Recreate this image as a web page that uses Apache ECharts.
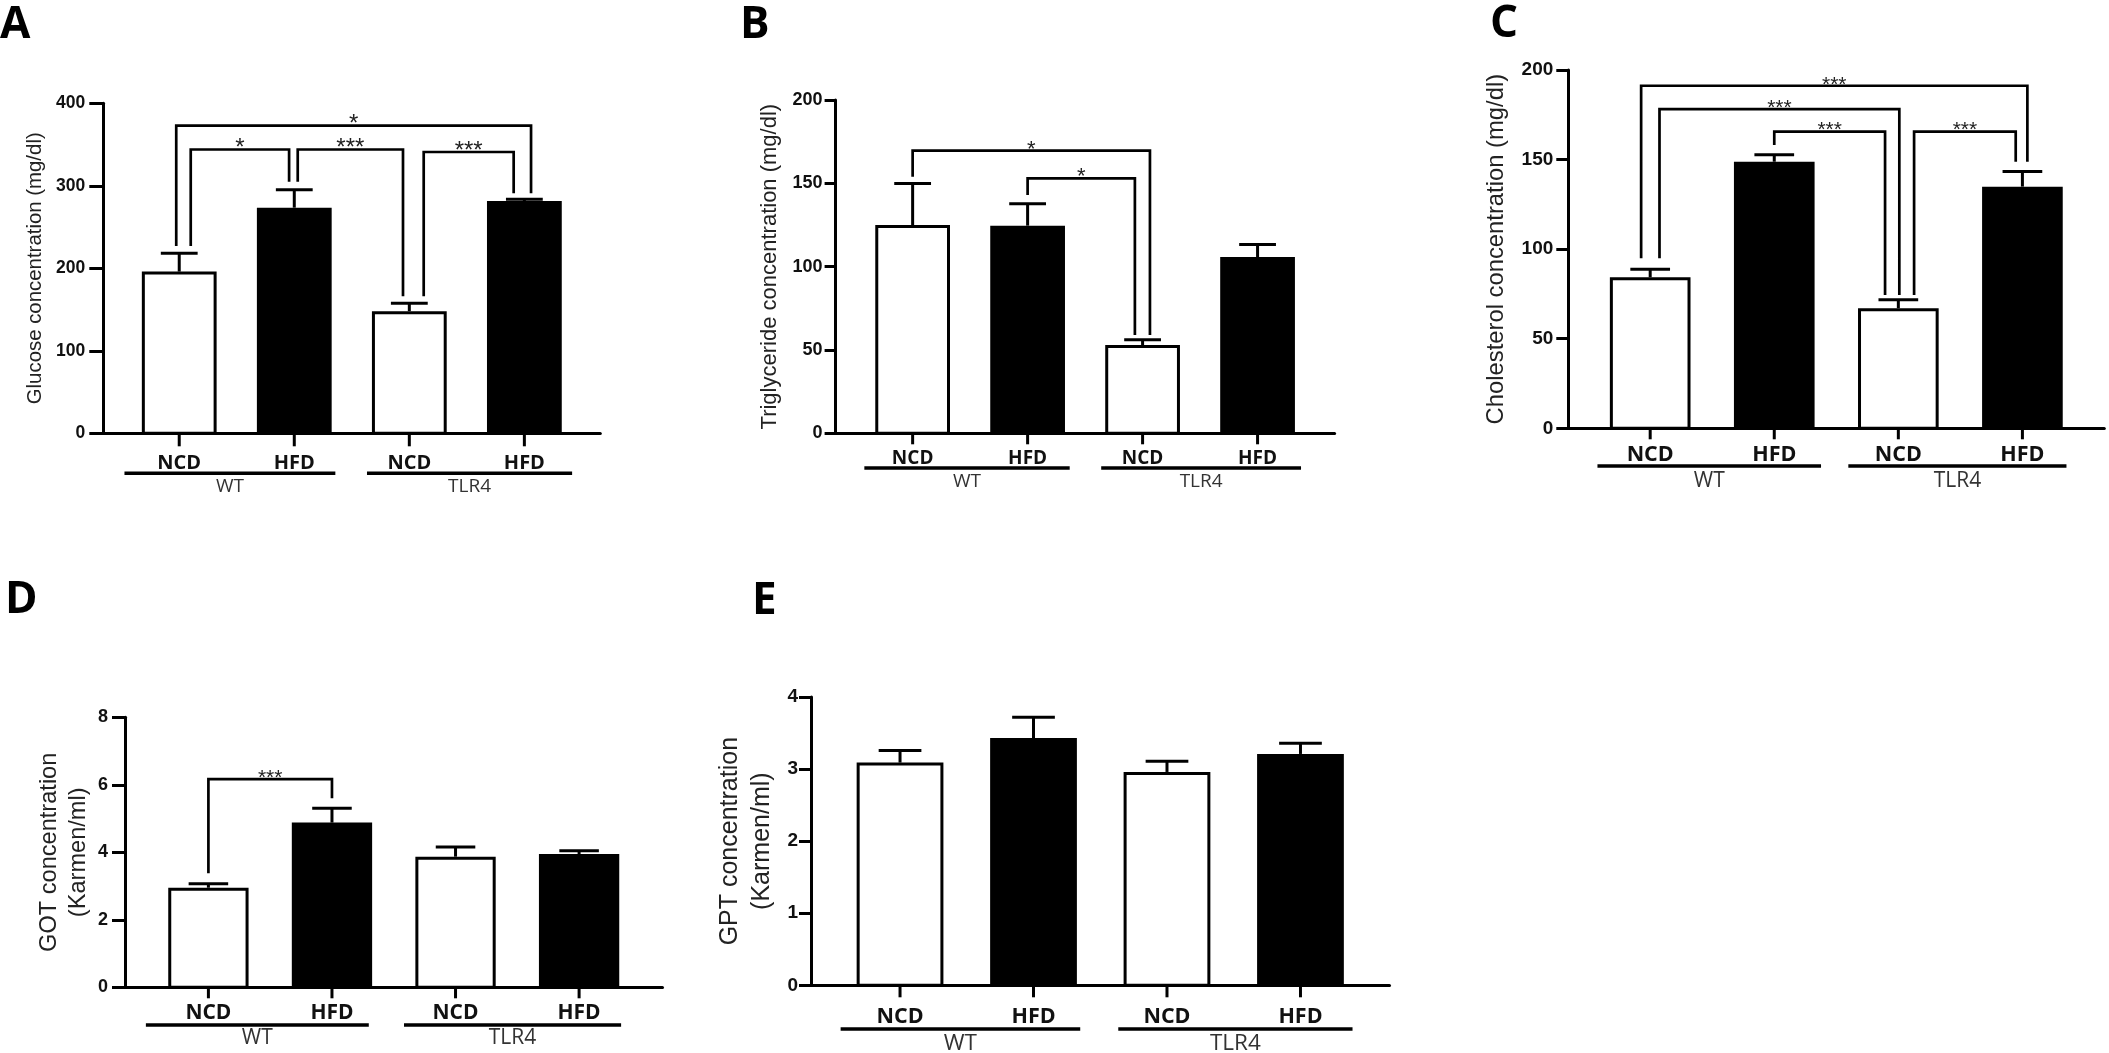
<!DOCTYPE html>
<html><head><meta charset="utf-8">
<script src="https://cdn.jsdelivr.net/npm/echarts@6/dist/echarts.min.js"></script>
<style>html,body{margin:0;padding:0;background:#fff}#chart{width:2109px;height:1053px}</style>
</head><body><div id="chart"></div>
<script>
// ---------------- data ----------------
const categories = ['NCD', 'HFD', 'NCD', 'HFD'];
const groupNames = ['WT', 'TLR4'];
const groupMembers = [[0, 1], [2, 3]];
const panelLetters = ['A', 'B', 'C', 'D', 'E'];

// bracket rows: [from, to, bracket level, left foot, right foot]
const glucoseTitle = 'Glucose concentration (mg/dl)';
const glucoseTicks = [0, 100, 200, 300, 400];
const glucoseMean = [196, 273.5, 148, 281.5];
const glucoseSem = [24, 23.5, 11.5, 4];
const glucoseBrackets = [[0, 1, 344, 227, 305], [1, 2, 344, 305, 166], [2, 3, 341, 166, 291], [0, 3, 373, 227, 291]];
const glucoseStars = ['*', '***', '***', '*'];

const triglycerideTitle = 'Triglyceride concentration (mg/dl)';
const triglycerideTicks = [0, 50, 100, 150, 200];
const triglycerideMean = [125, 124.6, 53, 105.8];
const triglycerideSem = [25.8, 14, 4, 8.4];
const triglycerideBrackets = [[0, 2, 169.6, 154, 59], [1, 2, 153, 143, 59]];
const triglycerideStars = ['*', '*'];

const cholesterolTitle = 'Cholesterol concentration (mg/dl)';
const cholesterolTicks = [0, 50, 100, 150, 200];
const cholesterolMean = [84.3, 148.8, 67, 134.9];
const cholesterolSem = [5.3, 4.7, 5.6, 9.3];
const cholesterolBrackets = [[0, 3, 191.2, 94.9, 148.8], [0, 2, 178.2, 94.9, 74.4], [1, 2, 165.6, 158.1, 74.4], [2, 3, 165.6, 74.4, 148.8]];
const cholesterolStars = ['***', '***', '***', '***'];

const gotTitle = 'GOT concentration\n(Karmen/ml)';
const gotTicks = [0, 2, 4, 6, 8];
const gotMean = [2.95, 4.88, 3.87, 3.95];
const gotSem = [0.16, 0.47, 0.33, 0.14];
const gotBrackets = [[0, 1, 6.17, 3.38, 5.6]];
const gotStars = ['***'];

const gptTitle = 'GPT concentration\n(Karmen/ml)';
const gptTicks = [0, 1, 2, 3, 4];
const gptMean = [3.09, 3.43, 2.96, 3.21];
const gptSem = [0.19, 0.31, 0.17, 0.17];
const gptBrackets = [];
const gptStars = [];

// ---------------- style / layout ----------------
const BAR_FILL = ['#ffffff', '#000000', '#ffffff', '#000000'];
const BAR_W = 0.65, CAP_HALF = 0.16;
const FONT_NUM = '"Liberation Sans", Arial, sans-serif';
const FONT_LBL = '"Open Sans", sans-serif';

const layouts = [
  {left: 103.3, top: 103.3, width: 497, height: 330, pad: 0.66, tickFont: 17.5, tickLen: 14, margin: 18,
   titleSize: 20.4, titleLH: 24, titleGap: 55.6, catFont: 20, catOff: 30, catTick: 13,
   grpFont: 19, grpLineOff: 40, grpLabelOff: 53, grpExt: [[0.476, 0.357], [0.368, 0.415]], starFont: 24,
   dx: [[0.1, -0.045], [0.03, -0.055], [0.125, -0.093], [-0.026, 0.058]], letterX: 0, letterY: 25},
  {left: 835.6, top: 100, width: 499, height: 333.3, pad: 0.67, tickFont: 18, tickLen: 11, margin: 13,
   titleSize: 22, titleLH: 26, titleGap: 53, catFont: 19, catOff: 25, catTick: 11,
   grpFont: 19, grpLineOff: 34.7, grpLabelOff: 48, grpExt: [[0.42, 0.366], [0.36, 0.378]], starFont: 22,
   dx: [[0, 0.064], [0, -0.067]], letterX: 740, letterY: 25.5},
  {left: 1568.3, top: 70, width: 536, height: 358.3, pad: 0.66, tickFont: 19, tickLen: 12, margin: 15,
   titleSize: 23.8, titleLH: 28, titleGap: 58.3, catFont: 21.5, catOff: 26.5, catTick: 11,
   grpFont: 21, grpLineOff: 37.7, grpLabelOff: 53, grpExt: [[0.425, 0.377], [0.403, 0.355]], starFont: 21,
   dx: [[-0.073, 0.04], [0.075, 0.008], [0, -0.107], [0.127, -0.054]], letterX: 1490, letterY: 24},
  {left: 125, top: 717.3, width: 537.5, height: 270, pad: 0.675, tickFont: 18, tickLen: 13, margin: 17,
   titleSize: 23.6, titleLH: 28.3, titleGap: 32.7, catFont: 21, catOff: 26, catTick: 11,
   grpFont: 21, grpLineOff: 37.7, grpLabelOff: 51, grpExt: [[0.506, 0.298], [0.417, 0.34]], starFont: 21,
   dx: [[0, 0]], letterX: 5, letterY: 600},
  {left: 811, top: 697, width: 578.5, height: 288.3, pad: 0.667, tickFont: 19, tickLen: 12, margin: 13,
   titleSize: 25, titleLH: 31.7, titleGap: 33.3, catFont: 21.5, catOff: 32, catTick: 12,
   grpFont: 22.5, grpLineOff: 43.7, grpLabelOff: 58, grpExt: [[0.445, 0.35], [0.365, 0.39]], starFont: 21,
   dx: [], letterX: 752, letterY: 601}
];

const panels = [
  {title: glucoseTitle, ticks: glucoseTicks, mean: glucoseMean, sem: glucoseSem, brackets: glucoseBrackets, stars: glucoseStars},
  {title: triglycerideTitle, ticks: triglycerideTicks, mean: triglycerideMean, sem: triglycerideSem, brackets: triglycerideBrackets, stars: triglycerideStars},
  {title: cholesterolTitle, ticks: cholesterolTicks, mean: cholesterolMean, sem: cholesterolSem, brackets: cholesterolBrackets, stars: cholesterolStars},
  {title: gotTitle, ticks: gotTicks, mean: gotMean, sem: gotSem, brackets: gotBrackets, stars: gotStars},
  {title: gptTitle, ticks: gptTicks, mean: gptMean, sem: gptSem, brackets: gptBrackets, stars: gptStars}
];

const option = {animation: false, backgroundColor: '#ffffff', grid: [], xAxis: [], yAxis: [], series: [], graphic: []};

panels.forEach((p, k) => {
  const L = layouts[k];
  option.grid.push({left: L.left, top: L.top, width: L.width, height: L.height, containLabel: false});
  option.xAxis.push({type: 'value', gridIndex: k, min: -L.pad, max: 3 + L.pad,
    axisLine: {show: true, onZero: false, lineStyle: {color: '#000', width: 3}},
    axisTick: {show: false}, axisLabel: {show: false}, splitLine: {show: false}});
  option.yAxis.push({type: 'value', gridIndex: k, min: p.ticks[0], max: p.ticks[p.ticks.length - 1],
    interval: p.ticks[1] - p.ticks[0],
    axisLine: {show: true, onZero: false, lineStyle: {color: '#000', width: 3}},
    axisTick: {show: true, length: L.tickLen, lineStyle: {color: '#000', width: 3}},
    axisLabel: {margin: L.margin, color: '#111', fontFamily: FONT_NUM, fontWeight: 'bold', fontSize: L.tickFont},
    splitLine: {show: false},
    name: p.title, nameLocation: 'middle', nameRotate: 90, nameGap: L.titleGap,
    nameTextStyle: {fontFamily: FONT_NUM, fontSize: L.titleSize, lineHeight: L.titleLH, color: '#222'}});

  // bars
  option.series.push({type: 'custom', xAxisIndex: k, yAxisIndex: k, z: 2, silent: true,
    data: p.mean.map((v, i) => [i, v]), encode: {x: 0, y: 1},
    renderItem: (params, api) => {
      const i = api.value(0), v = api.value(1), lw = 3;
      const a = api.coord([i - BAR_W / 2, v]), b = api.coord([i + BAR_W / 2, 0]);
      return {type: 'rect', shape: {x: a[0] + lw / 2, y: a[1] + lw / 2, width: b[0] - a[0] - lw, height: b[1] - a[1] - lw / 2},
        style: {fill: BAR_FILL[i], stroke: '#000', lineWidth: lw}};
    }});

  // error bars (upper SEM)
  option.series.push({type: 'custom', xAxisIndex: k, yAxisIndex: k, z: 3, silent: true,
    data: p.mean.map((v, i) => [i, v, v + p.sem[i]]), encode: {x: 0, y: [1, 2]},
    renderItem: (params, api) => {
      const i = api.value(0);
      const lo = api.coord([i, api.value(1)]), hi = api.coord([i, api.value(2)]);
      const cl = api.coord([i - CAP_HALF, api.value(2)]), cr = api.coord([i + CAP_HALF, api.value(2)]);
      return {type: 'group', children: [
        {type: 'line', shape: {x1: lo[0], y1: lo[1], x2: hi[0], y2: hi[1] + 1.5}, style: {stroke: '#000', lineWidth: 3}},
        {type: 'line', shape: {x1: cl[0], y1: cl[1] + 1.5, x2: cr[0], y2: cr[1] + 1.5}, style: {stroke: '#000', lineWidth: 3}}
      ]};
    }});

  // significance brackets
  if (p.brackets.length) {
    option.series.push({type: 'custom', xAxisIndex: k, yAxisIndex: k, z: 4, silent: true,
      data: p.brackets, encode: {x: 0, y: 2},
      renderItem: (params, api) => {
        const bi = params.dataIndex, d = L.dx[bi];
        const f = api.value(0) + d[0], t = api.value(1) + d[1];
        const top = api.value(2);
        const p1 = api.coord([f, api.value(3)]), p2 = api.coord([f, top]);
        const p3 = api.coord([t, top]), p4 = api.coord([t, api.value(4)]);
        return {type: 'group', children: [
          {type: 'polyline', shape: {points: [p1, p2, p3, p4]}, style: {stroke: '#000', lineWidth: 2.7, fill: null, lineJoin: 'miter'}},
          {type: 'text', x: (p2[0] + p3[0]) / 2, y: p2[1] - 1,
            style: {text: p.stars[bi], font: `${L.starFont}px ${FONT_NUM}`, fill: '#222', align: 'center', verticalAlign: 'middle'}}
        ]};
      }});
  }

  // category ticks and labels
  option.series.push({type: 'custom', xAxisIndex: k, yAxisIndex: k, z: 5, silent: true,
    data: categories.map((c, i) => [i, 0]), encode: {x: 0, y: 1},
    renderItem: (params, api) => {
      const i = api.value(0), c = api.coord([i, 0]);
      return {type: 'group', children: [
        {type: 'line', shape: {x1: c[0], y1: c[1], x2: c[0], y2: c[1] + L.catTick}, style: {stroke: '#000', lineWidth: 3}},
        {type: 'text', x: c[0], y: c[1] + L.catOff,
          style: {text: categories[i], font: `bold ${L.catFont}px ${FONT_LBL}`, fill: '#111', align: 'center', verticalAlign: 'middle'}}
      ]};
    }});

  // group underlines and labels
  option.series.push({type: 'custom', xAxisIndex: k, yAxisIndex: k, z: 5, silent: true,
    data: groupMembers.map(g => [g[0], 0, g[1]]), encode: {x: 0, y: 1},
    renderItem: (params, api) => {
      const gi = params.dataIndex, ext = L.grpExt[gi];
      const a = api.coord([api.value(0) - ext[0], 0]), b = api.coord([api.value(2) + ext[1], 0]);
      const y = a[1] + L.grpLineOff;
      return {type: 'group', children: [
        {type: 'line', shape: {x1: a[0], y1: y, x2: b[0], y2: y}, style: {stroke: '#000', lineWidth: 3.5}},
        {type: 'text', x: (a[0] + b[0]) / 2, y: a[1] + L.grpLabelOff,
          style: {text: groupNames[gi], font: `${L.grpFont}px ${FONT_LBL}`, fill: '#333', align: 'center', verticalAlign: 'middle'}}
      ]};
    }});

  // panel letter
  option.graphic.push({type: 'text', x: L.letterX, y: L.letterY, z: 10,
    style: {text: panelLetters[k], font: `bold 44px ${FONT_LBL}`, fill: '#000', align: 'left', verticalAlign: 'middle'}});
});

const chart = echarts.init(document.getElementById('chart'), null, {renderer: 'canvas'});
chart.setOption(option);
</script>
</body></html>
